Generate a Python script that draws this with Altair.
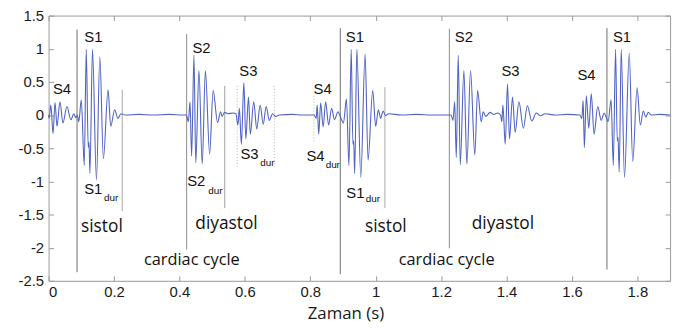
import altair as alt
import pandas as pd

# ---- signal (time in s, amplitude) ----
time_s = [
    0.0, 0.0015, 0.0070, 0.0136, 0.0197, 0.0258, 0.0348, 0.0439, 0.0561, 0.0682, 0.0773, 0.0833, 0.0879,
    0.0924, 0.1000, 0.1091, 0.1152, 0.1212, 0.1236, 0.1264, 0.1342, 0.1464, 0.1567, 0.1676, 0.1818,
    0.1900, 0.2021, 0.2121, 0.2212, 0.2333, 0.2758, 0.3212, 0.3667, 0.4121, 0.4212,
    0.4273, 0.4324, 0.4373, 0.4445, 0.4500, 0.4597, 0.4697, 0.4794, 0.4924, 0.5030, 0.5167, 0.5258,
    0.5303, 0.5379, 0.5485, 0.5636, 0.5727,
    0.5788, 0.5833, 0.5894, 0.5970, 0.6030, 0.6112, 0.6167, 0.6273, 0.6364, 0.6470, 0.6561, 0.6652,
    0.6748, 0.6848, 0.6939, 0.7061, 0.7455, 0.7758, 0.8121,
    0.8182, 0.8212, 0.8258, 0.8318, 0.8394, 0.8470, 0.8561, 0.8652, 0.8742, 0.8848, 0.8924,
    0.9015, 0.9106, 0.9182, 0.9252, 0.9303, 0.9327, 0.9358, 0.9424, 0.9545, 0.9676, 0.9767, 0.9909,
    1.0000, 1.0082, 1.0152, 1.0227, 1.0303, 1.0394, 1.0788, 1.1242, 1.1697, 1.2152, 1.2303,
    1.2364, 1.2415, 1.2464, 1.2524, 1.2585, 1.2697, 1.2788, 1.2900, 1.3030, 1.3115, 1.3227, 1.3288,
    1.3364, 1.3500, 1.3606, 1.3727, 1.3818,
    1.3858, 1.3888, 1.3961, 1.4030, 1.4091, 1.4182, 1.4264, 1.4379, 1.4515, 1.4636, 1.4773, 1.4909,
    1.5030, 1.5182, 1.5485, 1.5848, 1.6242,
    1.6303, 1.6342, 1.6379, 1.6439, 1.6515, 1.6591, 1.6676, 1.6788, 1.6894, 1.6985, 1.7045,
    1.7106, 1.7197, 1.7264, 1.7333, 1.7385, 1.7409, 1.7445, 1.7506, 1.7606, 1.7752, 1.7858, 1.7991,
    1.8091, 1.8182, 1.8258, 1.8333, 1.8424, 1.8667, 1.9000,
]
amplitude = [
    0.0, -0.05, 0.15, -0.28, 0.19, -0.17, 0.20, -0.12, 0.13, -0.07, 0.02, -0.04, 0.0,
    -0.10, 0.23, -0.76, 0.99, -0.49, -0.41, -0.88, 0.99, -0.98, 0.88, -0.66, 0.38,
    -0.17, 0.08, -0.05, 0.02, 0.0, 0.01, 0.0, 0.01, 0.0, 0.0,
    -0.10, 0.20, -0.62, 0.90, -0.72, 0.67, -0.74, 0.67, -0.59, 0.37, -0.11, 0.05,
    -0.02, 0.04, 0.02, 0.03, 0.02,
    -0.15, 0.10, -0.44, 0.49, -0.36, 0.27, -0.29, 0.20, -0.21, 0.15, -0.14, 0.13,
    -0.08, 0.02, -0.02, 0.0, 0.01, 0.0, 0.0,
    -0.05, 0.15, -0.29, 0.18, -0.18, 0.20, -0.15, 0.10, -0.07, 0.05, -0.03,
    -0.12, 0.24, -0.76, 0.99, -0.44, -0.39, -0.88, 0.99, -0.94, 0.92, -0.68, 0.37,
    -0.17, 0.08, -0.05, 0.06, -0.01, 0.02, 0.0, 0.01, 0.0, 0.0, 0.0,
    -0.08, 0.20, -0.64, 0.90, -0.75, 0.67, -0.74, 0.67, -0.60, 0.37, -0.10, 0.05,
    -0.02, 0.04, 0.01, 0.03, 0.0,
    -0.10, 0.15, -0.44, 0.47, -0.36, 0.27, -0.26, 0.20, -0.20, 0.14, -0.09, 0.03,
    -0.01, 0.02, 0.0, 0.01, 0.0,
    -0.05, 0.22, -0.49, 0.29, -0.20, 0.32, -0.29, 0.13, -0.08, 0.03, -0.03,
    -0.10, 0.23, -0.76, 0.99, -0.39, -0.34, -0.86, 0.99, -0.94, 0.93, -0.70, 0.41,
    -0.15, 0.06, -0.03, 0.04, 0.0, 0.01, 0.0,
]

x_ticks = [0, 0.2, 0.4, 0.6, 0.8, 1, 1.2, 1.4, 1.6, 1.8]
y_ticks = [-2.5, -2, -1.5, -1, -0.5, 0, 0.5, 1, 1.5]

# ---- solid marker lines ----
line_t = [0.0870, 0.2252, 0.4221, 0.5385, 0.8918, 1.0282, 1.2252, 1.7070]
line_top = [1.29, 0.38, 1.22, 0.44, 1.31, 0.42, 1.30, 1.31]
line_bottom = [-2.37, -1.45, -2.03, -1.40, -2.40, -1.40, -2.01, -2.33]
line_shade = ["#6e6e6e", "#a8a8a8", "#8c8c8c", "#a0a0a0", "#6e6e6e", "#a8a8a8", "#8c8c8c", "#6e6e6e"]

# ---- dotted duration lines ----
dot_t = [0.5767, 0.6900, 0.8112]
dot_top = [0.44, 0.44, 0.29]
dot_bottom = [-0.78, -0.78, -0.42]

# ---- sound labels ----
s_text = ["S4", "S1", "S2", "S3", "S4", "S1", "S2", "S3", "S4", "S1"]
s_t = [0.0409, 0.1370, 0.4676, 0.6106, 0.8379, 0.9364, 1.2697, 1.4121, 1.6445, 1.7530]
s_v = [0.39, 1.18, 1.01, 0.66, 0.39, 1.18, 1.18, 0.66, 0.60, 1.18]

dur_text = ["S1", "S2", "S3", "S4", "S1"]
dur_t = [0.1364, 0.4515, 0.6142, 0.8161, 0.9379]
dur_v = [-1.12, -0.99, -0.59, -0.62, -1.17]
sub_text = ["dur", "dur", "dur", "dur", "dur"]
sub_t = [0.1697, 0.4879, 0.6470, 0.8470, 0.9697]
sub_v = [-1.25, -1.14, -0.72, -0.76, -1.26]

phase_text = ["sistol", "diyastol", "sistol", "diyastol"]
phase_t = [0.163, 0.544, 1.031, 1.389]
phase_v = [-1.69, -1.64, -1.69, -1.64]

cycle_text = ["cardiac cycle", "cardiac cycle"]
cycle_t = [0.438, 1.217]
cycle_v = [-2.18, -2.18]

# ---- tables ----
sig = pd.DataFrame({"t": time_s, "v": amplitude})
rules_df = pd.DataFrame({"t": line_t, "top": line_top, "bottom": line_bottom, "shade": line_shade})
dots_df = pd.DataFrame({"t": dot_t, "top": dot_top, "bottom": dot_bottom})
s_df = pd.DataFrame({"t": s_t, "v": s_v, "label": s_text})
dur_df = pd.DataFrame({"t": dur_t, "v": dur_v, "label": dur_text})
sub_df = pd.DataFrame({"t": sub_t, "v": sub_v, "label": sub_text})
phase_df = pd.DataFrame({"t": phase_t, "v": phase_v, "label": phase_text})
cycle_df = pd.DataFrame({"t": cycle_t, "v": cycle_v, "label": cycle_text})

xs = alt.Scale(domain=[0, 1.9], nice=False, zero=False)
ys = alt.Scale(domain=[-2.5, 1.5], nice=False, zero=False)

common = dict(grid=False, domain=False, ticks=True, tickSize=5, tickColor="#9a9a9a",
              tickWidth=1, offset=-5)

x_axis = alt.Axis(orient="bottom", values=x_ticks, labelExpr="toString(datum.value)",
                  labelFont="Liberation Sans", labelFontSize=15, labelColor="#1a1a1a",
                  labelPadding=4, title="Zaman (s)", titleFont="Open Sans", titleFontSize=17,
                  titleFontWeight="normal", titleColor="#1a1a1a", titleX=300, titleY=43,
                  titleAlign="center", titleBaseline="alphabetic", **common)
y_axis = alt.Axis(orient="left", values=y_ticks, labelExpr="toString(datum.value)",
                  labelFont="Liberation Sans", labelFontSize=15, labelColor="#1a1a1a",
                  labelPadding=5, title="", **common)
top_axis = alt.Axis(orient="top", values=x_ticks, labels=False, title="", **common)
right_axis = alt.Axis(orient="right", values=y_ticks, labels=False, title="", **common)

rules = alt.Chart(rules_df).mark_rule(strokeWidth=1).encode(
    x=alt.X("t:Q", scale=xs, axis=top_axis),
    y=alt.Y("top:Q", scale=ys, axis=right_axis),
    y2="bottom:Q",
    color=alt.Color("shade:N", scale=None),
)

dots = alt.Chart(dots_df).mark_rule(color="#b5b5b5", strokeDash=[1, 2], strokeWidth=1).encode(
    x=alt.X("t:Q", scale=xs, axis=None),
    y=alt.Y("top:Q", scale=ys, axis=None),
    y2="bottom:Q",
)

line = alt.Chart(sig).mark_line(color="#5064c4", strokeWidth=1.1, interpolate="monotone").encode(
    x=alt.X("t:Q", scale=xs, axis=x_axis),
    y=alt.Y("v:Q", scale=ys, axis=y_axis),
)


def text_layer(df, size, font, align="center"):
    return alt.Chart(df).mark_text(fontSize=size, font=font, align=align, baseline="middle",
                                   color="#111111").encode(
        x=alt.X("t:Q", scale=xs, axis=None),
        y=alt.Y("v:Q", scale=ys, axis=None),
        text="label:N",
    )


s_layer = text_layer(s_df, 15, "Liberation Sans")
dur_layer = text_layer(dur_df, 15, "Liberation Sans")
sub_layer = text_layer(sub_df, 10, "Liberation Sans", align="left")
phase_layer = text_layer(phase_df, 17.5, "Open Sans")
cycle_layer = text_layer(cycle_df, 16.5, "Open Sans")

chart = alt.layer(
    rules, dots, line, s_layer, dur_layer, sub_layer, phase_layer, cycle_layer
).resolve_axis(x="independent", y="independent").properties(
    width=628, height=268,
    autosize=alt.AutoSizeParams(type="none"),
    padding={"left": 41, "top": 6, "right": 8, "bottom": 45},
).configure_view(stroke="#9a9a9a", strokeWidth=1)

chart.save("out.html", embed_options={"renderer": "svg", "actions": False})
